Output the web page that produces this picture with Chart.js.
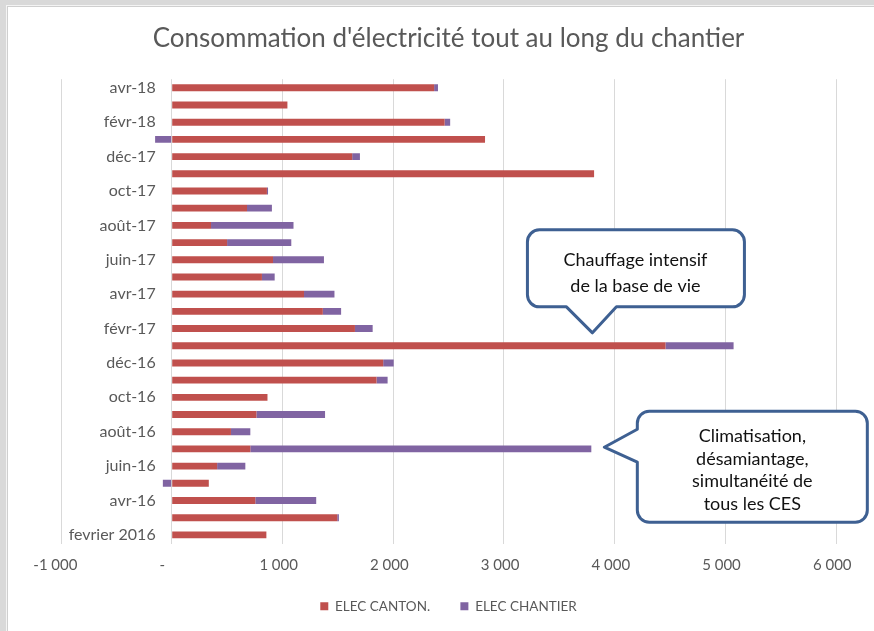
<!DOCTYPE html>
<html>
<head>
<meta charset="utf-8">
<script src="https://cdn.jsdelivr.net/npm/chart.js@4.4.1/dist/chart.umd.min.js"></script>
<style>
  html, body { margin: 0; padding: 0; width: 874px; height: 631px; overflow: hidden; background: #d9d9d9; }
  #wrap { position: absolute; left: 7px; top: 6px; width: 880px; height: 625px; background: #fff;
          border-left: 1px solid #cfcfcf; border-top: 1px solid #cfcfcf; box-shadow: -1px -1px 0 #f4f4f4; }
  canvas { display: block; }
</style>
</head>
<body>
<div id="wrap"><canvas id="chart" width="880" height="625"></canvas></div>
<script>
// Months of the works, oldest first (drawn bottom to top)
const MONTHS = [
  'fevrier 2016', 'mars-16', 'avr-16', 'mai-16', 'juin-16', 'juil-16', 'août-16', 'sept-16', 'oct-16',
  'nov-16', 'déc-16', 'janv-17', 'févr-17', 'mars-17', 'avr-17', 'mai-17', 'juin-17', 'juil-17',
  'août-17', 'sept-17', 'oct-17', 'nov-17', 'déc-17', 'janv-18', 'févr-18', 'mars-18', 'avr-18'
];

// Cantonment (site huts) meter
const ELEC_CANTON = [
  855, 1495, 755, 335, 410, 710, 535, 765, 865,
  1850, 1910, 4460, 1655, 1365, 1195, 815, 915, 500,
  355, 680, 860, 3815, 1630, 2830, 2465, 1045, 2370
];

// Worksite meter
const ELEC_CHANTIER = [
  0, 15, 550, -80, 255, 3080, 175, 620, 0,
  100, 95, 615, 160, 165, 275, 115, 460, 580,
  745, 225, 10, 0, 70, -150, 50, 0, 35
];

const X_MIN = -1000;
const X_MAX = 6000;
const X_STEP = 1000;
// Month labels hang just left of the zero line
const MONTH_AXIS_AT = -145;

const TITLE = "Consommation d'électricité tout au long du chantier";
const SERIES_NAMES = ['ELEC CANTON.', 'ELEC CHANTIER'];

// Callout notes: text lines and the point (value, month index) the pointer aims at
const NOTE_HEATING = ['Chauffage intensif', 'de la base de vie'];
const NOTE_HEATING_AT = { value: 3800, index: 11.75 };
const NOTE_COOLING = ['Climatisation,', 'désamiantage,', 'simultanéité de', 'tous les CES'];
const NOTE_COOLING_AT = { value: 3790, index: 5.1 };

const RED = '#c0504d';
const PURPLE = '#8064a2';
const TEXT = '#595959';
const GRID = '#d9d9d9';
const CALLOUT = '#3e6092';

Chart.defaults.font.family = 'Lato, "Open Sans", sans-serif';

// Thousands with a space, zero as a dash, padded on the right like an accounting format
function formatTick(v) {
  if (v === 0) return '-\u2003\u2002';
  const s = Math.abs(v).toString().replace(/\B(?=(\d{3})+(?!\d))/g, '\u202f');
  return v < 0 ? '-' + s + '\u2003' : s + '\u2002';
}

function calloutPath(ctx, box, r, ptr) {
  ctx.beginPath();
  ctx.moveTo(box.l + r, box.t);
  ctx.lineTo(box.r - r, box.t);
  ctx.arcTo(box.r, box.t, box.r, box.t + r, r);
  ctx.lineTo(box.r, box.b - r);
  ctx.arcTo(box.r, box.b, box.r - r, box.b, r);
  if (ptr.side === 'bottom') {
    ctx.lineTo(ptr.hi, box.b);
    ctx.lineTo(ptr.x, ptr.y);
    ctx.lineTo(ptr.lo, box.b);
  }
  ctx.lineTo(box.l + r, box.b);
  ctx.arcTo(box.l, box.b, box.l, box.b - r, r);
  if (ptr.side === 'left') {
    ctx.lineTo(box.l, ptr.hi);
    ctx.lineTo(ptr.x, ptr.y);
    ctx.lineTo(box.l, ptr.lo);
  }
  ctx.lineTo(box.l, box.t + r);
  ctx.arcTo(box.l, box.t, box.l + r, box.t, r);
  ctx.closePath();
}

function drawCallout(ctx, box, ptr, lines, cx, firstY, lineH) {
  ctx.save();
  calloutPath(ctx, box, 12, ptr);
  ctx.fillStyle = '#ffffff';
  ctx.fill();
  ctx.lineWidth = 3;
  ctx.lineJoin = 'round';
  ctx.strokeStyle = CALLOUT;
  ctx.stroke();
  ctx.fillStyle = '#111111';
  ctx.font = '18px Lato, "Open Sans", sans-serif';
  ctx.textAlign = 'center';
  ctx.textBaseline = 'middle';
  lines.forEach((t, i) => ctx.fillText(t, cx, firstY + i * lineH));
  ctx.restore();
}

const calloutPlugin = {
  id: 'callouts',
  afterDraw(chart) {
    const { ctx, scales: { x, y } } = chart;

    // Heating note, pointer pointing down at the winter peak
    const hx = x.getPixelForValue(NOTE_HEATING_AT.value);
    const hy = y.getPixelForValue(NOTE_HEATING_AT.index);
    drawCallout(ctx,
      { l: hx - 65, r: hx + 152, t: hy - 103, b: hy - 26 },
      { side: 'bottom', x: hx, y: hy, lo: hx - 26, hi: hx + 24 },
      NOTE_HEATING, hx + 43, hy - 73, 26);

    // Cooling note, pointer pointing left at the summer peak
    const cx = x.getPixelForValue(NOTE_COOLING_AT.value) + 13;
    const cy = y.getPixelForValue(NOTE_COOLING_AT.index);
    drawCallout(ctx,
      { l: cx + 33, r: cx + 263, t: cy - 36, b: cy + 75 },
      { side: 'left', x: cx, y: cy, lo: cy - 18, hi: cy + 15 },
      NOTE_COOLING, cx + 148, cy - 11, 22.7);
  }
};

new Chart(document.getElementById('chart'), {
  type: 'bar',
  data: {
    labels: MONTHS,
    datasets: [
      { label: SERIES_NAMES[0], data: ELEC_CANTON, backgroundColor: RED, borderWidth: 0 },
      { label: SERIES_NAMES[1], data: ELEC_CHANTIER, backgroundColor: PURPLE, borderWidth: 0 }
    ]
  },
  options: {
    responsive: false,
    animation: false,
    indexAxis: 'y',
    datasets: { bar: { barPercentage: 0.4, categoryPercentage: 1 } },
    layout: { padding: { left: 53, right: 52, top: 0, bottom: 9 } },
    plugins: {
      title: {
        display: true, text: TITLE, color: TEXT,
        font: { size: 26, weight: 'normal' },
        padding: { top: 16, bottom: 25 }
      },
      legend: {
        position: 'bottom',
        labels: {
          boxWidth: 8, boxHeight: 8, color: TEXT, font: { size: 13.5 }, padding: 10,
          generateLabels(chart) {
            const items = Chart.defaults.plugins.legend.labels.generateLabels(chart);
            // wider gap between the two entries
            items.forEach((it, i) => { if (i < items.length - 1) it.text += '\u2003\u2003'; });
            return items;
          }
        }
      },
      tooltip: { enabled: false }
    },
    scales: {
      x: {
        stacked: true, min: X_MIN, max: X_MAX,
        afterFit(scale) { scale.height += 2; },
        ticks: { stepSize: X_STEP, callback: formatTick, color: TEXT, font: { size: 15 }, padding: 13, maxRotation: 0 },
        grid: { color: GRID, drawTicks: false },
        border: { display: false }
      },
      y: {
        stacked: true, reverse: true,
        position: { x: MONTH_AXIS_AT },
        afterFit(scale) { scale.width = 0; },
        grid: { display: false, drawTicks: false },
        border: { display: false },
        ticks: {
          autoSkip: false, color: TEXT, font: { size: 16 }, padding: 0,
          callback: (v, i) => (i % 2 === 0 ? MONTHS[i] : '')
        }
      }
    }
  },
  plugins: [calloutPlugin]
});
</script>
</body>
</html>
